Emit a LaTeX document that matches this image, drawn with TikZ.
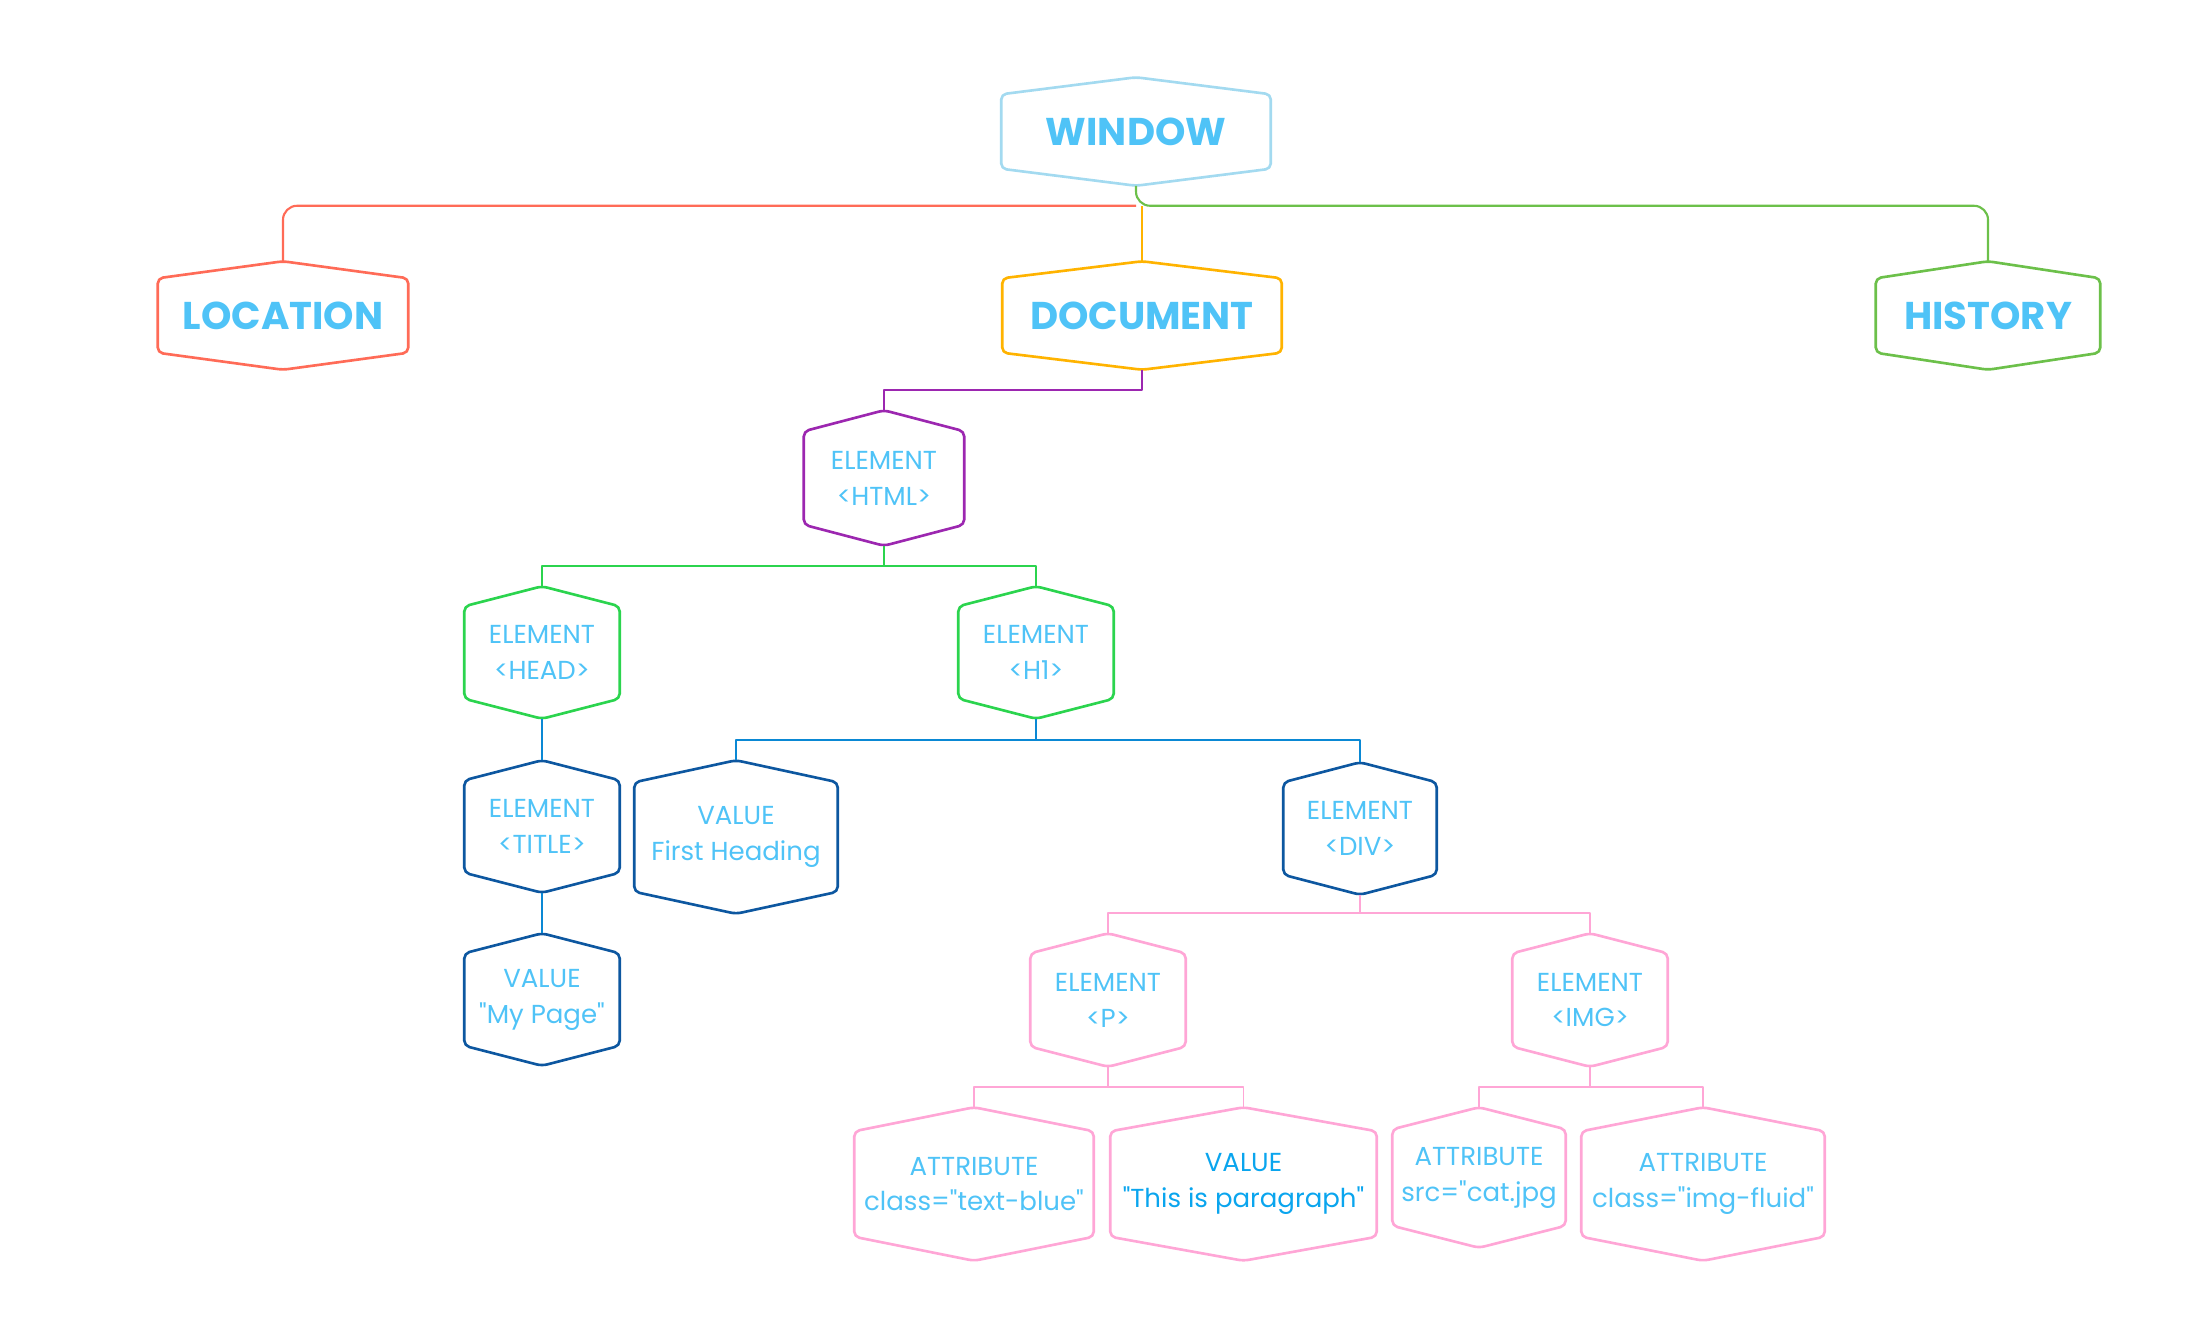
\documentclass[tikz,border=0pt]{standalone}
\usepackage{fontspec}
\setmainfont{Poppins}[Ligatures=TeXOff]
\usetikzlibrary{positioning}
\definecolor{txtblue}{HTML}{4FC3F7}
\definecolor{parblue}{HTML}{0AA5EE}
\definecolor{winline}{HTML}{A3DAF0}
\definecolor{locred}{HTML}{FF6B57}
\definecolor{docorange}{HTML}{FFB300}
\definecolor{histgreen}{HTML}{6CC04A}
\definecolor{htmlpurple}{HTML}{9C27B0}
\definecolor{elgreen}{HTML}{2BD44E}
\definecolor{lineblue}{HTML}{0A88D4}
\definecolor{darkblue}{HTML}{0D57A0}
\definecolor{pinkc}{HTML}{FFA6D6}

\begin{document}
\begin{tikzpicture}[x=0.01cm, y=-0.01cm, line join=round]
    \tikzstyle{hex}=[rectangle, inner sep=0pt, text=txtblue, align=center, font=\fontsize{7.4}{10.2}\selectfont]
    \tikzstyle{big hex}=[hex, minimum height=1.07cm, font=\fontsize{11}{13}\selectfont\bfseries]
    \tikzstyle{el hex}=[hex, minimum width=1.54cm, minimum height=1.31cm]
    \tikzstyle{link}=[line width=0.6pt]
    \tikzstyle{thin link}=[line width=0.45pt]
    \tikzstyle{border}=[line width=0.75pt, rounded corners=1.5pt]

    \useasboundingbox (0,0) rectangle (2209,1341);

    % top level objects
    \node[big hex, minimum width=2.68cm] (win) at (1136,131.5) {WINDOW};
    \node[big hex, minimum width=2.49cm] (loc) at (283,315.5) {LOCATION};
    \node[big hex, minimum width=2.78cm] (doc) at (1142,315.5) {DOCUMENT};
    \node[big hex, minimum width=2.23cm] (hist) at (1988,315.5) {HISTORY};

    % the DOM tree
    \node[hex, minimum width=1.59cm, minimum height=1.34cm] (html) at (884,478) {ELEMENT\\<HTML>};
    \node[el hex] (head) at (542,652.5) {ELEMENT\\<HEAD>};
    \node[el hex] (hone) at (1036,652.5) {ELEMENT\\<H1>};
    \node[el hex] (title) at (542,826.5) {ELEMENT\\<TITLE>};
    \node[hex, minimum width=2.02cm, minimum height=1.52cm] (firsth) at (736,837) {VALUE\\First Heading};
    \node[el hex] (mypage) at (542,999.5) {VALUE\\"My Page"};
    \node[el hex, minimum width=1.52cm] (div) at (1360,828.5) {ELEMENT\\<DIV>};
    \node[el hex, minimum height=1.32cm] (pel) at (1108,1000) {ELEMENT\\<P>};
    \node[el hex, minimum height=1.32cm] (img) at (1590,1000) {ELEMENT\\<IMG>};
    \node[hex, minimum width=2.38cm, minimum height=1.52cm] (attrtb) at (974,1184) {ATTRIBUTE\\class="text-blue"};
    \node[hex, text=parblue, minimum width=2.65cm, minimum height=1.52cm] (valpar) at (1243.5,1184) {VALUE\\"This is paragraph"};
    \node[hex, minimum width=1.72cm, minimum height=1.39cm] (attrsrc) at (1479,1177.5) {ATTRIBUTE\\src="cat.jpg};
    \node[hex, minimum width=2.42cm, minimum height=1.52cm] (attrfl) at (1703,1184) {ATTRIBUTE\\class="img-fluid"};

    % hexagon outlines
    \foreach \n/\c/\k in {win/winline/0.17, loc/locred/0.17, doc/docorange/0.17, hist/histgreen/0.17,
        html/htmlpurple/0.21, head/elgreen/0.2, hone/elgreen/0.2, title/darkblue/0.2, firsth/darkblue/0.22,
        mypage/darkblue/0.2, div/darkblue/0.2, pel/pinkc/0.2, img/pinkc/0.2, attrtb/pinkc/0.24,
        valpar/pinkc/0.24, attrsrc/pinkc/0.22, attrfl/pinkc/0.24}
        \draw[border, \c] (\n.north) -- ([yshift=-\k cm]\n.north east) -- ([yshift=\k cm]\n.south east)
            -- (\n.south) -- ([yshift=\k cm]\n.south west) -- ([yshift=-\k cm]\n.north west) -- cycle;

    % window branches
    \coordinate (wj) at ([yshift=-0.2cm]win.south);
    \draw[link, locred, rounded corners=4pt] (wj) -| (loc.north);
    \draw[link, histgreen, rounded corners=4pt] (win.south) -- (wj) -| (hist.north);
    \draw[link, docorange] (doc.north) -- (doc.north |- wj);

    % tree connectors
    \draw[link, htmlpurple] (doc.south) -- ++(0,20) -| (html.north);
    \foreach \k in {head, hone}
        \draw[link, elgreen] (html.south) -- ++(0,20) -| (\k.north);
    \draw[link, lineblue] (head.south) -- (title.north);
    \draw[link, lineblue] (title.south) -- (mypage.north);
    \foreach \k in {firsth, div}
        \draw[link, lineblue] (hone.south) -- ++(0,21) -| (\k.north);
    \foreach \k in {pel, img}
        \draw[thin link, pinkc] (div.south) -- ++(0,18) -| (\k.north);
    \foreach \k in {attrtb, valpar}
        \draw[thin link, pinkc] (pel.south) -- ++(0,20) -| (\k.north);
    \foreach \k in {attrsrc, attrfl}
        \draw[thin link, pinkc] (img.south) -- ++(0,20) -| (\k.north);
\end{tikzpicture}
\end{document}
